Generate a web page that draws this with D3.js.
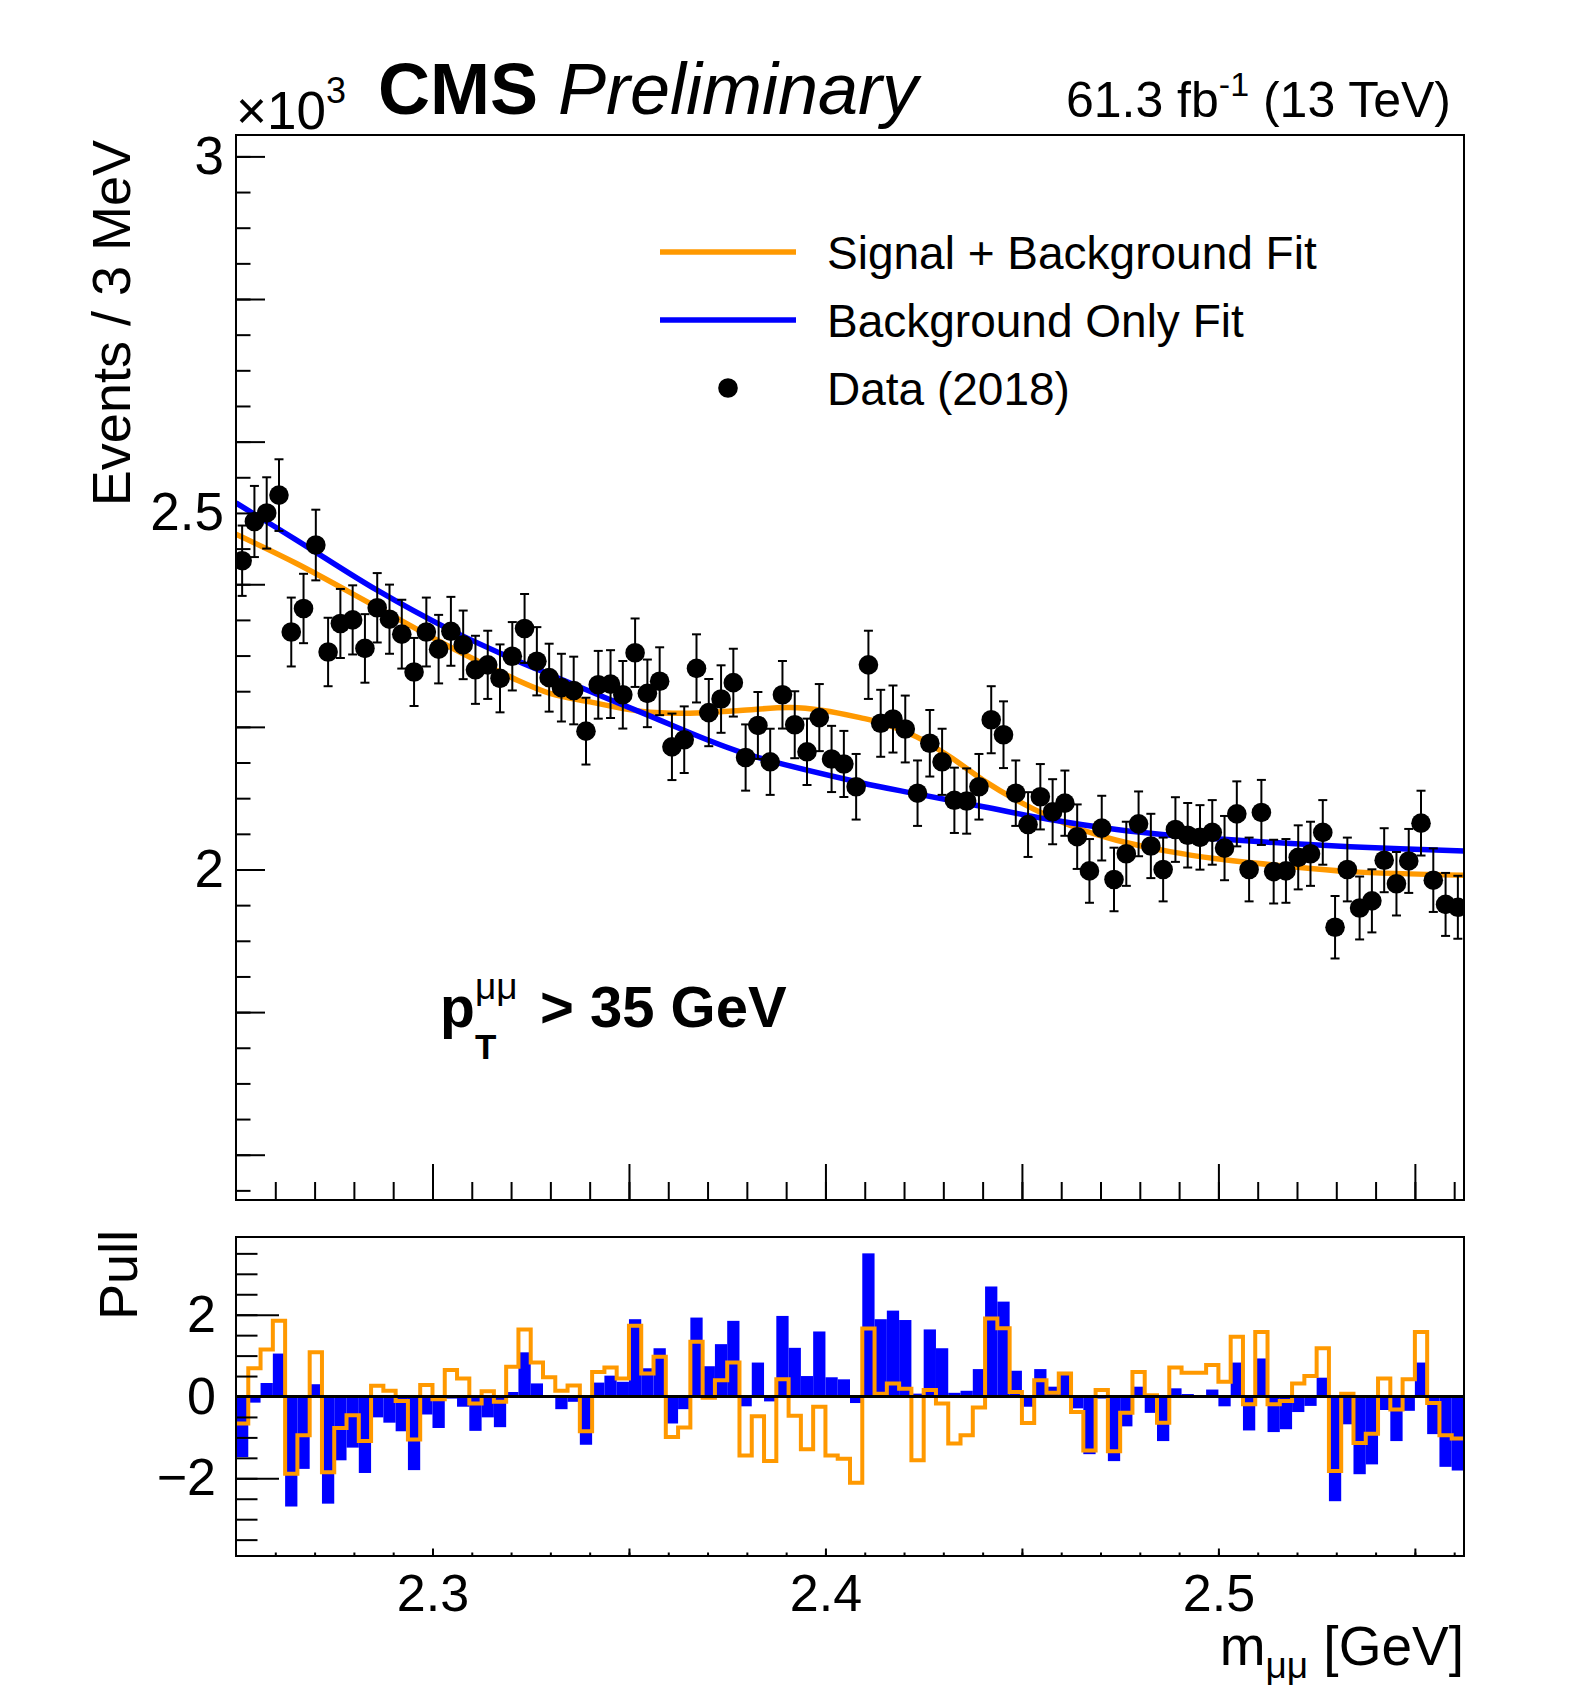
<!DOCTYPE html>
<html><head><meta charset="utf-8">
<script src="https://cdn.jsdelivr.net/npm/d3@7"></script>
<style>
body{margin:0;background:#fff;}
svg{display:block;}
text{font-family:"Liberation Sans", Arial, Helvetica, sans-serif;}
</style>
</head><body>
<svg id="c" width="1575" height="1692"></svg>
<script>
// ---------------- DATA ----------------
const binLow = 2.25, binHigh = 2.5625, nBins = 100;   // m_mumu binning [GeV]
// Events per bin, in units of 10^3
const dataY = [2.433,2.488,2.500,2.525,2.333,2.366,2.455,2.305,2.345,2.350,
  2.310,2.367,2.351,2.330,2.277,2.333,2.309,2.334,2.315,2.280,
  2.287,2.268,2.299,2.338,2.292,2.269,2.255,2.251,2.194,2.259,
  2.260,2.245,2.304,2.247,2.264,2.172,2.182,2.282,2.220,2.239,
  2.262,2.157,2.202,2.151,2.245,2.203,2.165,2.213,2.155,2.148,
  2.116,2.287,2.205,2.211,2.197,2.107,2.177,2.151,2.097,2.096,
  2.116,2.210,2.189,2.107,2.063,2.102,2.081,2.093,2.046,1.998,
  2.058,1.986,2.022,2.064,2.033,2.000,2.056,2.048,2.045,2.052,
  2.030,2.078,2.000,2.080,1.997,1.998,2.017,2.022,2.052,1.919,
  2.000,1.946,1.956,2.013,1.980,2.012,2.065,1.985,1.951,1.947];
// Pull w.r.t. background-only fit (blue bars)
const pullBkg = [-1.48,-0.15,0.33,1.05,-2.69,-1.77,0.30,-2.62,-1.56,-1.25,
  -1.87,-0.51,-0.64,-0.85,-1.80,-0.44,-0.77,-0.05,-0.25,-0.84,
  -0.51,-0.75,0.11,1.08,0.32,-0.03,-0.31,-0.13,-1.18,0.34,
  0.51,0.36,1.89,0.69,1.18,-0.66,-0.31,1.93,0.74,1.28,
  1.85,-0.24,0.83,-0.12,1.97,1.19,0.50,1.59,0.47,0.42,
  -0.16,3.50,1.89,2.10,1.87,0.07,1.64,1.18,0.09,0.14,
  0.67,2.69,2.32,0.63,-0.25,0.67,0.24,0.60,-0.29,-1.41,
  -0.05,-1.58,-0.73,0.24,-0.40,-1.09,0.20,0.06,0.03,0.17,
  -0.24,0.83,-0.83,0.93,-0.87,-0.80,-0.38,-0.23,0.46,-2.56,
  -0.68,-1.90,-1.66,-0.33,-1.09,-0.35,0.83,-0.92,-1.72,-1.81];
// Pull w.r.t. signal + background fit (orange outline)
const pullSB = [-0.66,0.69,1.15,1.85,-1.89,-0.95,1.08,-1.85,-0.77,-0.46,
  -1.09,0.26,0.14,-0.11,-1.05,0.28,-0.07,0.65,0.44,-0.17,
  0.13,-0.13,0.73,1.64,0.83,0.47,0.14,0.27,-0.85,0.60,
  0.71,0.44,1.73,0.56,0.97,-0.99,-0.76,1.34,-0.03,0.40,
  0.83,-1.44,-0.48,-1.58,0.42,-0.47,-1.29,-0.25,-1.44,-1.52,
  -2.11,1.66,0.07,0.32,0.19,-1.56,0.16,-0.17,-1.15,-0.95,
  -0.27,1.91,1.67,0.11,-0.65,0.40,0.09,0.56,-0.38,-1.32,
  0.16,-1.34,-0.40,0.60,0.03,-0.64,0.71,0.58,0.58,0.77,
  0.36,1.46,-0.19,1.58,-0.19,-0.11,0.32,0.50,1.18,-1.82,
  0.07,-1.14,-0.91,0.44,-0.32,0.42,1.58,-0.16,-0.95,-1.03];
// Background-only fit curve samples (mass [GeV], events x10^3)
const bkgFitM = [2.2500,2.2654,2.2858,2.3045,2.3206,2.3274,2.3528,2.3782,2.4088,2.4232,2.4402,2.4571,2.4741,2.4877,2.4995,2.5164,2.5335,2.5625];
const bkgFitY = [2.514,2.462,2.392,2.336,2.295,2.279,2.221,2.165,2.122,2.106,2.088,2.070,2.056,2.048,2.043,2.037,2.032,2.026];
// Signal + background fit curve samples
const sbFitM = [2.2500,2.2654,2.2858,2.3045,2.3206,2.3299,2.3401,2.3528,2.3655,2.3782,2.3910,2.3994,2.4088,2.4147,2.4232,2.4317,2.4402,2.4487,2.4571,2.4656,2.4741,2.4877,2.4995,2.5165,2.5335,2.5625];
const sbFitY = [2.470,2.429,2.368,2.312,2.268,2.247,2.235,2.222,2.219,2.223,2.227,2.223,2.213,2.205,2.186,2.158,2.125,2.097,2.074,2.055,2.041,2.025,2.015,2.005,1.997,1.992];
// Tick labels
const xTickLabels = [2.3, 2.4, 2.5];
const yTickLabels = [2, 2.5, 3];
const pullTickLabels = [-2, 0, 2];
const legendLabels = ["Signal + Background Fit", "Background Only Fit", "Data (2018)"];

// ---------------- LAYOUT ----------------
const X0 = 236, X1 = 1464, Y0 = 135, Y1 = 1200, P0 = 1237, P1 = 1556;
const ORANGE = "#ff9900", BLUE = "#0000ff";
const FONT = '"Liberation Sans", Arial, Helvetica, sans-serif';

const svg = d3.select("#c");
svg.append("rect").attr("width",1575).attr("height",1692).attr("fill","#fff");

const x = d3.scaleLinear().domain([binLow, binHigh]).range([X0, X1]);
const y = d3.scaleLinear().domain([1.5365, 3.03]).range([Y1, Y0]);
const yp = d3.scaleLinear().domain([-3.9, 3.9]).range([P1, P0]);

const bw = (binHigh - binLow) / nBins;
const binIdx = d3.range(nBins);
const center = i => binLow + (i + 0.5) * bw;
const edge = i => binLow + i * bw;

const defs = svg.append("defs");
defs.append("clipPath").attr("id","clipMain").append("rect")
  .attr("x",X0).attr("y",Y0).attr("width",X1-X0).attr("height",Y1-Y0);
defs.append("clipPath").attr("id","clipPull").append("rect")
  .attr("x",X0).attr("y",P0).attr("width",X1-X0).attr("height",P1-P0);

// ---------------- MAIN PANEL ----------------
const gMain = svg.append("g").attr("clip-path","url(#clipMain)");

const lineGen = d3.line().x(d => x(d[0])).y(d => y(d[1])).curve(d3.curveCatmullRom.alpha(0.5));
gMain.append("path").datum(sbFitM.map((m,i)=>[m, sbFitY[i]]))
  .attr("d", lineGen).attr("fill","none").attr("stroke",ORANGE).attr("stroke-width",5.5);
gMain.append("path").datum(bkgFitM.map((m,i)=>[m, bkgFitY[i]]))
  .attr("d", lineGen).attr("fill","none").attr("stroke",BLUE).attr("stroke-width",5.5);

// data points with Poisson error bars
const pts = gMain.append("g");
binIdx.forEach(i => {
  const v = dataY[i];
  const e = Math.sqrt(v * 1000) / 1000;
  const cx = x(center(i));
  pts.append("line").attr("x1",cx).attr("x2",cx).attr("y1",y(v-e)).attr("y2",y(v+e))
    .attr("stroke","#000").attr("stroke-width",2);
  [v-e, v+e].forEach(t => pts.append("line").attr("x1",cx-4.5).attr("x2",cx+4.5)
    .attr("y1",y(t)).attr("y2",y(t)).attr("stroke","#000").attr("stroke-width",2));
  pts.append("circle").attr("cx",cx).attr("cy",y(v)).attr("r",9.8).attr("fill","#000");
});

// frame
svg.append("rect").attr("x",X0).attr("y",Y0).attr("width",X1-X0).attr("height",Y1-Y0)
  .attr("fill","none").attr("stroke","#000").attr("stroke-width",2);

// y axis ticks (inside)
const yMinor = d3.range(31).map(k => +(1.55 + 0.05*k).toFixed(2)).filter(v => v >= 1.5365 && v <= 3.03);
const yMajor = yMinor.filter(v => Math.abs(v*5 - Math.round(v*5)) < 1e-6);
const gy1 = svg.append("g").attr("transform",`translate(${X0},0)`)
  .call(d3.axisLeft(y).tickValues(yMinor).tickSize(-14.5).tickFormat(""));
const gy2 = svg.append("g").attr("transform",`translate(${X0},0)`)
  .call(d3.axisLeft(y).tickValues(yMajor).tickSize(-29).tickFormat(""));
const gy3 = svg.append("g").attr("transform",`translate(${X0},0)`)
  .call(d3.axisLeft(y).tickValues(yTickLabels).tickSize(0).tickPadding(12).tickFormat(d3.format("")));
[gy1,gy2,gy3].forEach(g => { g.select(".domain").remove(); g.selectAll("line").attr("stroke","#000").attr("stroke-width",2); });
gy3.selectAll("text").attr("font-size",53).attr("font-family",FONT).attr("fill","#000");

// x axis ticks main (inside, no labels)
const xMinor = d3.range(32).map(k => +(2.25 + 0.01*k).toFixed(2)).filter(v => v > 2.25 && v < 2.5625);
const xMajor = xMinor.filter(v => Math.abs(v*20 - Math.round(v*20)) < 1e-6);
const gx1 = svg.append("g").attr("transform",`translate(0,${Y1})`)
  .call(d3.axisBottom(x).tickValues(xMinor).tickSize(-18).tickFormat(""));
const gx2 = svg.append("g").attr("transform",`translate(0,${Y1})`)
  .call(d3.axisBottom(x).tickValues(xMajor).tickSize(-36).tickFormat(""));
[gx1,gx2].forEach(g => { g.select(".domain").remove(); g.selectAll("line").attr("stroke","#000").attr("stroke-width",2); });

// ---------------- PULL PANEL ----------------
const gPull = svg.append("g").attr("clip-path","url(#clipPull)");
gPull.selectAll("rect.bar").data(binIdx).enter().append("rect")
  .attr("x", i => x(edge(i)))
  .attr("width", i => x(edge(i+1)) - x(edge(i)))
  .attr("y", i => Math.min(yp(0), yp(pullBkg[i])))
  .attr("height", i => Math.abs(yp(pullBkg[i]) - yp(0)))
  .attr("fill", BLUE);
const stepPts = [];
binIdx.forEach(i => { stepPts.push([edge(i), pullSB[i]]); stepPts.push([edge(i+1), pullSB[i]]); });
gPull.append("path").datum(stepPts)
  .attr("d", d3.line().x(d => x(d[0])).y(d => yp(d[1])))
  .attr("fill","none").attr("stroke",ORANGE).attr("stroke-width",4).attr("stroke-linejoin","miter");
gPull.append("line").attr("x1",X0).attr("x2",X1).attr("y1",yp(0)).attr("y2",yp(0))
  .attr("stroke","#000").attr("stroke-width",3);

svg.append("rect").attr("x",X0).attr("y",P0).attr("width",X1-X0).attr("height",P1-P0)
  .attr("fill","none").attr("stroke","#000").attr("stroke-width",2);

const pMinor = d3.range(15).map(k => -3.5 + 0.5*k);
const pMajor = pullTickLabels;
const gp1 = svg.append("g").attr("transform",`translate(${X0},0)`)
  .call(d3.axisLeft(yp).tickValues(pMinor).tickSize(-21.5).tickFormat(""));
const gp2 = svg.append("g").attr("transform",`translate(${X0},0)`)
  .call(d3.axisLeft(yp).tickValues(pMajor).tickSize(-43).tickFormat(""));
const gp3 = svg.append("g").attr("transform",`translate(${X0},0)`)
  .call(d3.axisLeft(yp).tickValues(pullTickLabels).tickSize(0).tickPadding(20).tickFormat(d3.format("")));
[gp1,gp2,gp3].forEach(g => { g.select(".domain").remove(); g.selectAll("line").attr("stroke","#000").attr("stroke-width",2); });
gp3.selectAll("text").attr("font-size",52).attr("font-family",FONT).attr("fill","#000");

const gq1 = svg.append("g").attr("transform",`translate(0,${P1})`)
  .call(d3.axisBottom(x).tickValues(xMinor).tickSize(-3.5).tickFormat(""));
const gq2 = svg.append("g").attr("transform",`translate(0,${P1})`)
  .call(d3.axisBottom(x).tickValues(xMajor).tickSize(-7.5).tickFormat(""));
const gq3 = svg.append("g").attr("transform",`translate(0,${P1})`)
  .call(d3.axisBottom(x).tickValues(xTickLabels).tickSize(0).tickPadding(18).tickFormat(d3.format("")));
[gq1,gq2,gq3].forEach(g => { g.select(".domain").remove(); g.selectAll("line").attr("stroke","#000").attr("stroke-width",2); });
gq3.selectAll("text").attr("font-size",52).attr("font-family",FONT).attr("fill","#000");

// ---------------- TEXTS ----------------
// x10^3
const t1 = svg.append("text").attr("x",236).attr("y",129).attr("font-size",53).attr("fill","#000");
t1.append("tspan").text("\u00d710");
t1.append("tspan").attr("dy",-26).attr("font-size",36).text("3");

const cms = svg.append("text").attr("x",378).attr("y",114).attr("font-size",72).attr("fill","#000");
cms.append("tspan").attr("font-weight","bold").text("CMS");
cms.append("tspan").attr("font-style","italic").text(" Preliminary");

const lumi = svg.append("text").attr("x",1451).attr("y",117).attr("font-size",50)
  .attr("text-anchor","end").attr("fill","#000");
lumi.append("tspan").text("61.3 fb");
lumi.append("tspan").attr("dy",-21).attr("font-size",34).text("-1");
lumi.append("tspan").attr("dy",21).text(" (13 TeV)");

svg.append("text").attr("transform","translate(130,140) rotate(-90)")
  .attr("text-anchor","end").attr("font-size",54).attr("fill","#000").text("Events / 3 MeV");
svg.append("text").attr("transform","translate(137,1230) rotate(-90)")
  .attr("text-anchor","end").attr("font-size",54).attr("fill","#000").text("Pull");

const xt = svg.append("text").attr("x",1464).attr("y",1665).attr("font-size",55)
  .attr("text-anchor","end").attr("fill","#000");
xt.append("tspan").text("m");
xt.append("tspan").attr("dy",13).attr("font-size",37).text("\u03bc\u03bc");
xt.append("tspan").attr("dy",-13).text(" [GeV]");

// pT label
svg.append("text").attr("x",440).attr("y",1027).attr("font-size",57).attr("font-weight","bold").attr("fill","#000").text("p");
svg.append("text").attr("x",475).attr("y",1059).attr("font-size",35).attr("font-weight","bold").attr("fill","#000").text("T");
svg.append("text").attr("x",475).attr("y",999).attr("font-size",37).attr("fill","#000").text("\u03bc\u03bc");
svg.append("text").attr("x",540).attr("y",1027).attr("font-size",58).attr("font-weight","bold").attr("fill","#000").text("> 35 GeV");

// ---------------- LEGEND ----------------
const lg = svg.append("g");
const legY = [252, 320, 388];
lg.append("line").attr("x1",660).attr("x2",796).attr("y1",legY[0]).attr("y2",legY[0]).attr("stroke",ORANGE).attr("stroke-width",5.5);
lg.append("line").attr("x1",660).attr("x2",796).attr("y1",legY[1]).attr("y2",legY[1]).attr("stroke",BLUE).attr("stroke-width",5.5);
lg.append("circle").attr("cx",728).attr("cy",legY[2]).attr("r",9.8).attr("fill","#000");
legendLabels.forEach((t,k) => lg.append("text").attr("x",827).attr("y",legY[k]+16.5)
  .attr("font-size",46).attr("fill","#000").text(t));
</script>
</body></html>
